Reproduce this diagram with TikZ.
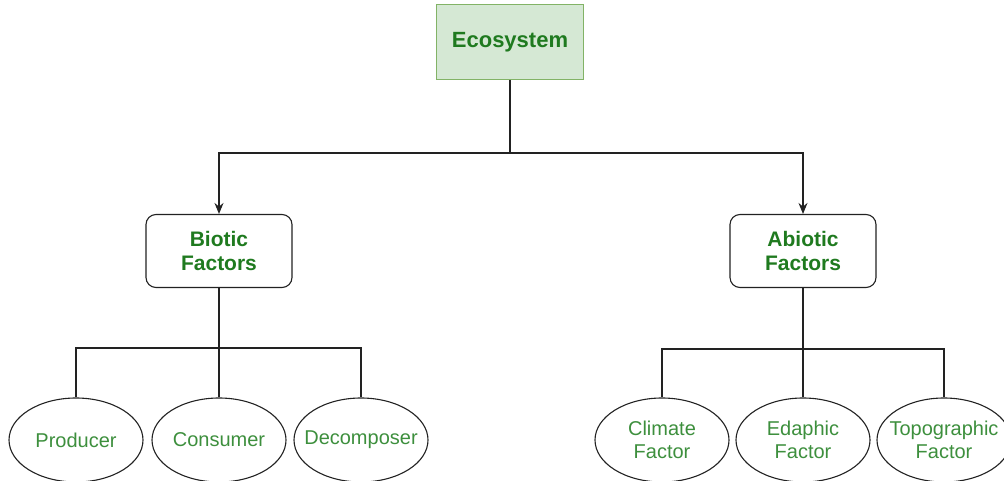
\documentclass[tikz,border=0pt]{standalone}
\usepackage{fontspec}
\setmainfont{Liberation Sans}
\usetikzlibrary{positioning,shapes.geometric,arrows.meta}

\definecolor{ecofill}{HTML}{D5E8D4}
\definecolor{ecoline}{HTML}{82B366}
\definecolor{headgreen}{HTML}{1F7A1F}
\definecolor{leafgreen}{HTML}{3D8F3D}
\definecolor{wireclr}{HTML}{222222}

\tikzset{
  rootbox/.style={draw=ecoline, fill=ecofill, line width=1pt, minimum width=147, minimum height=75,
    text=headgreen, font=\fontsize{22}{25}\selectfont\bfseries},
  factorbox/.style={draw=wireclr, rounded corners=10, line width=1.1pt, minimum width=146, minimum height=73,
    align=center, text=headgreen, font=\fontsize{21}{24}\selectfont\bfseries},
  leaf/.style={draw=wireclr, ellipse, line width=1.1pt, minimum width=134, minimum height=84,
    inner xsep=-18pt, inner ysep=0pt, align=center, text=leafgreen, font=\fontsize{20}{23}\selectfont},
  wire/.style={draw=wireclr, line width=1.1pt},
  arrowline/.style={wire, -{Stealth[length=11pt,width=9pt]}}
}

\begin{document}
\begin{tikzpicture}[x=1pt,y=-1pt]

		\useasboundingbox (0,0) rectangle (1004,481);
		\clip (0,0) rectangle (1004,481);

		% Root
		\node[rootbox] (eco) at (510,42) {Ecosystem};

		% Factor groups
		\node[factorbox] (bio) at (219,251) {Biotic\\Factors};
		\node[factorbox] (abio) at (803,251) {Abiotic\\Factors};

		% Biotic leaves
		\node[leaf] (prod) at (76,440) {Producer};
		\node[leaf] (cons) at (219,440) {Consumer};
		\node[leaf] (decomp) at (361,440) {Decomposer};

		% Abiotic leaves
		\node[leaf] (clim) at (662,440) {Climate\\Factor};
		\node[leaf] (edaph) at (803,440) {Edaphic\\Factor};
		\node[leaf] (topo) at (944,440) {Topographic\\Factor};

		% Root connectors
		\coordinate (ecojoin) at (510,153);
		\draw[wire] (eco.south) -- (ecojoin);
		\draw[arrowline] (ecojoin) -| (bio.north);
		\draw[arrowline] (ecojoin) -| (abio.north);

		% Biotic connectors
		\coordinate (biojoin) at (219,348);
		\draw[wire] (bio.south) -- (biojoin);
		\draw[wire] (biojoin) -| (prod.north);
		\draw[wire] (biojoin) -- (cons.north);
		\draw[wire] (biojoin) -| (decomp.north);

		% Abiotic connectors
		\coordinate (abiojoin) at (803,349);
		\draw[wire] (abio.south) -- (abiojoin);
		\draw[wire] (abiojoin) -| (clim.north);
		\draw[wire] (abiojoin) -- (edaph.north);
		\draw[wire] (abiojoin) -| (topo.north);

	\end{tikzpicture}
\end{document}
